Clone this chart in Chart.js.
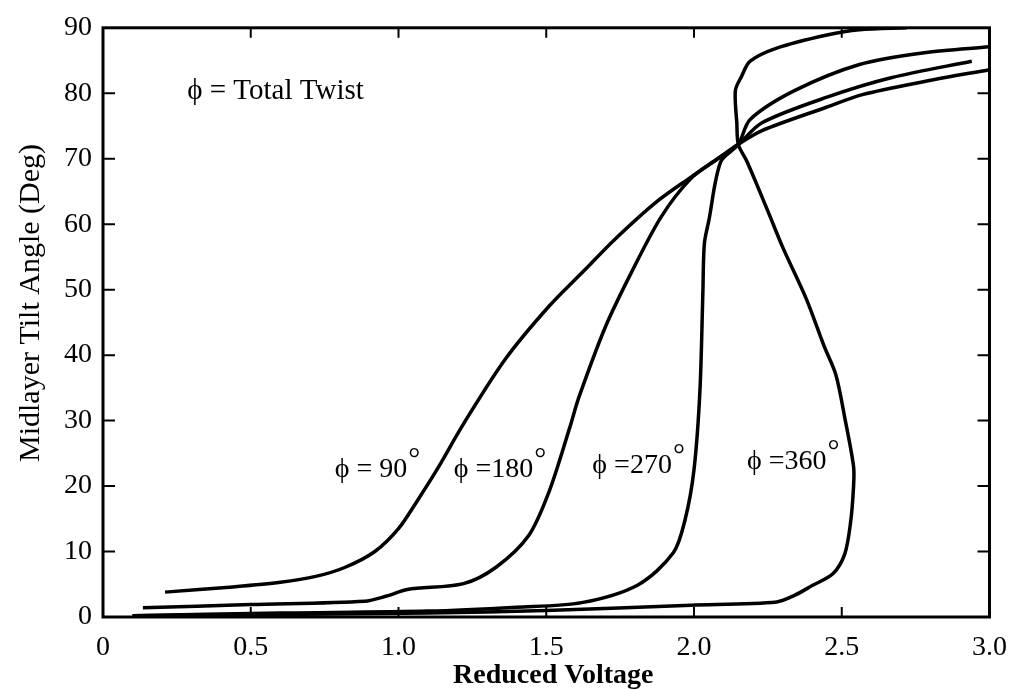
<!DOCTYPE html>
<html>
<head>
<meta charset="utf-8">
<script src="https://cdn.jsdelivr.net/npm/chart.js@4/dist/chart.umd.min.js"></script>
<style>
  html, body { margin: 0; padding: 0; background: #fff; }
  #wrap { width: 1021px; height: 690px; }
</style>
</head>
<body>
<div id="wrap"><canvas id="c" width="1021" height="690"></canvas></div>
<script>
// ---- data ----
const xTicks = [0, 0.5, 1.0, 1.5, 2.0, 2.5, 3.0];
const yTicks = [0, 10, 20, 30, 40, 50, 60, 70, 80, 90];

const v90 = [0.21,0.44,0.60,0.72,0.82,0.92,1.00,1.06,1.13,1.22,1.36,1.51,1.63,1.73,1.87,1.99,2.08,2.15,2.23,2.45,2.57,2.78,3.00];
const a90 = [3.8,4.6,5.3,6.2,7.6,10.0,13.5,17.5,22.5,29.5,39.3,47.5,53.0,57.6,63.3,67.2,70.0,72.2,74.3,77.9,79.8,81.8,83.6];

const v180 = [0.135,0.50,0.885,0.96,1.03,1.22,1.33,1.44,1.51,1.58,1.61,1.70,1.79,1.89,1.99,2.08,2.15,2.23,2.45,2.67,2.94];
const a180 = [1.4,1.9,2.4,3.2,4.2,5.1,7.6,12.4,19.2,29.0,33.5,44.3,52.8,61.2,67.0,70.0,72.2,75.5,79.4,82.4,84.9];

const v270 = [0.10,0.60,1.10,1.40,1.62,1.81,1.93,1.97,2.00,2.02,2.03,2.035,2.05,2.09,2.15,2.19,2.34,2.56,2.78,3.00];
const a270 = [0.2,0.6,0.9,1.5,2.2,4.9,9.8,14.9,22.5,34.5,49.5,57.0,60.5,69.5,72.2,76.0,80.4,84.4,86.2,87.1];

const v360 = [0.10,0.60,1.10,1.50,1.99,2.28,2.34,2.40,2.47,2.51,2.53,2.54,2.54,2.51,2.48,2.44,2.38,2.30,2.25,2.18,2.15,2.145,2.14,2.16,2.19,2.28,2.45,2.56,2.72];
const a360 = [0.2,0.4,0.6,1.0,1.8,2.3,3.3,4.8,6.6,9.6,14.5,20.0,23.0,30.5,37.0,41.4,48.6,56.5,62.0,69.5,72.2,75.4,80.4,82.5,84.9,86.9,88.9,89.7,90.0];

const seriesNames = ['ϕ = 90°', 'ϕ = 180°', 'ϕ = 270°', 'ϕ = 360°'];
const curveLabels = ['ϕ = 90', 'ϕ =180', 'ϕ =270', 'ϕ =360'];
const noteText = 'ϕ = Total Twist';
const xTitle = 'Reduced Voltage';
const yTitle = 'Midlayer Tilt Angle (Deg)';

// label anchors (in data units)
const labelAnchors = [
  { x: 0.784, y: 22.5 },
  { x: 1.187, y: 22.5 },
  { x: 1.656, y: 23.1 },
  { x: 2.179, y: 23.7 }
];
const noteAnchor = { x: 0.285, y: 80.3 };

function pts(xs, ys) { return xs.map((x, i) => ({ x: x, y: ys[i] })); }

const SERIF = '"Liberation Serif", "DejaVu Serif", serif';

const boxPlugin = {
  id: 'boxPlugin',
  afterDraw(chart) {
    const ctx = chart.ctx;
    const { left, right, top, bottom } = chart.chartArea;
    const xs = chart.scales.x, ys = chart.scales.y;
    ctx.save();
    ctx.strokeStyle = '#000';
    ctx.lineWidth = 3;
    ctx.strokeRect(left, top, right - left, bottom - top);
    ctx.lineWidth = 2;
    ctx.beginPath();
    xTicks.forEach(v => {
      if (v <= 0 || v >= 3) return;
      const p = xs.getPixelForValue(v);
      ctx.moveTo(p, bottom); ctx.lineTo(p, bottom - 10);
      ctx.moveTo(p, top); ctx.lineTo(p, top + 10);
    });
    yTicks.forEach(v => {
      if (v <= 0 || v >= 90) return;
      const p = ys.getPixelForValue(v);
      ctx.moveTo(left, p); ctx.lineTo(left + 12, p);
      ctx.moveTo(right, p); ctx.lineTo(right - 12, p);
    });
    ctx.stroke();

    ctx.fillStyle = '#000';
    ctx.textBaseline = 'middle';

    // axis titles
    ctx.textAlign = 'center';
    ctx.font = 'bold 28px ' + SERIF;
    ctx.fillText(xTitle, (left + right) / 2 + 7, 676);
    ctx.save();
    ctx.translate(31, 303);
    ctx.rotate(-Math.PI / 2);
    ctx.font = '30px ' + SERIF;
    ctx.fillText(yTitle, 0, 0);
    ctx.restore();

    // annotations
    ctx.textAlign = 'left';
    ctx.font = '29px ' + SERIF;
    ctx.fillText(noteText, xs.getPixelForValue(noteAnchor.x), ys.getPixelForValue(noteAnchor.y));
    curveLabels.forEach((t, i) => {
      const px = xs.getPixelForValue(labelAnchors[i].x);
      const py = ys.getPixelForValue(labelAnchors[i].y);
      ctx.font = '28px ' + SERIF;
      ctx.fillText(t, px, py);
      const w = ctx.measureText(t).width;
      ctx.font = '30px ' + SERIF;
      ctx.fillText('°', px + w + 1, py - 10);
    });
    ctx.restore();
  }
};

const common = {
  showLine: true,
  borderColor: '#000',
  backgroundColor: '#000',
  borderWidth: 3.5,
  pointRadius: 0,
  tension: 0.3,
  fill: false
};

new Chart(document.getElementById('c'), {
  type: 'scatter',
  data: {
    datasets: [
      Object.assign({ label: seriesNames[0], data: pts(v90, a90) }, common),
      Object.assign({ label: seriesNames[1], data: pts(v180, a180) }, common),
      Object.assign({ label: seriesNames[2], data: pts(v270, a270) }, common),
      Object.assign({ label: seriesNames[3], data: pts(v360, a360) }, common)
    ]
  },
  options: {
    responsive: false,
    animation: false,
    layout: { padding: { top: 16, right: 23, left: 0, bottom: 0 } },
    plugins: { legend: { display: false }, tooltip: { enabled: false } },
    scales: {
      x: {
        type: 'linear', min: 0, max: 3,
        afterBuildTicks: s => { s.ticks = xTicks.map(v => ({ value: v })); },
        afterFit: s => { s.height = 73; },
        grid: { display: false, drawTicks: false },
        border: { display: false },
        ticks: {
          color: '#000', padding: 14,
          font: { family: SERIF, size: 28 },
          callback: v => (v === 0 ? '0' : Number(v).toFixed(1))
        },
        title: { display: false }
      },
      y: {
        type: 'linear', min: 0, max: 90,
        afterBuildTicks: s => { s.ticks = yTicks.map(v => ({ value: v })); },
        afterFit: s => { s.width = 103; },
        grid: { display: false, drawTicks: false },
        border: { display: false },
        ticks: {
          color: '#000', padding: 11,
          font: { family: SERIF, size: 28 }
        },
        title: { display: false }
      }
    }
  },
  plugins: [boxPlugin]
});
</script>
</body>
</html>
